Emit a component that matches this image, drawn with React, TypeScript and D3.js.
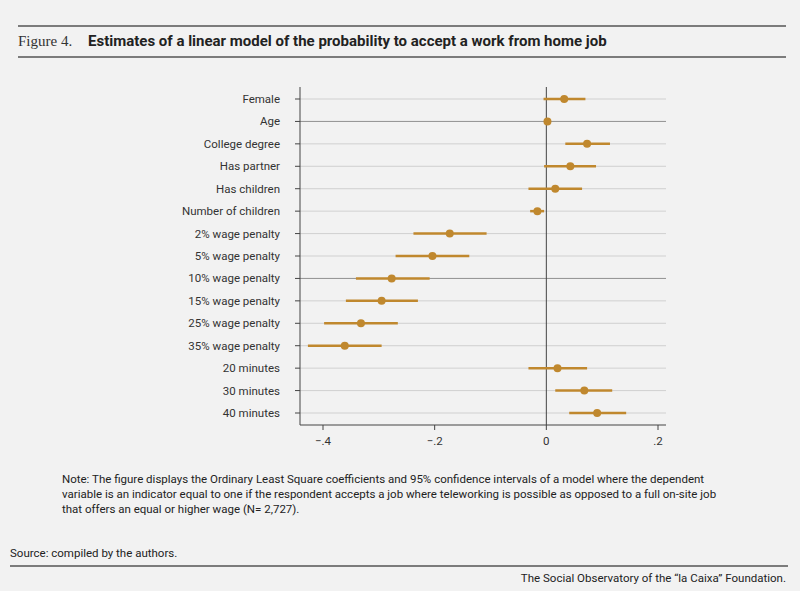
import React from 'react';
import * as d3 from 'd3';

const labels = ['Female', 'Age', 'College degree', 'Has partner', 'Has children', 'Number of children',
  '2% wage penalty', '5% wage penalty', '10% wage penalty', '15% wage penalty', '25% wage penalty',
  '35% wage penalty', '20 minutes', '30 minutes', '40 minutes'];
const estimates = [0.032, 0.002, 0.073, 0.043, 0.016, -0.016, -0.173, -0.204, -0.277, -0.295, -0.332, -0.361, 0.02, 0.068, 0.091];
const lower = [-0.005, -0.002, 0.034, -0.004, -0.032, -0.029, -0.238, -0.27, -0.341, -0.359, -0.398, -0.427, -0.032, 0.016, 0.041];
const upper = [0.07, 0.006, 0.114, 0.089, 0.064, -0.004, -0.107, -0.138, -0.209, -0.23, -0.266, -0.295, 0.073, 0.118, 0.143];
const ticks = [-0.4, -0.2, 0, 0.2];
const darkRows = ['Age', '10% wage penalty'];

const sans = 'Roboto, "Noto Sans", sans-serif';
const gold = '#c0882e';

export default function App() {
  const x = d3.scaleLinear().domain([-0.4, 0.2]).range([323, 658]);
  const y = d3.scalePoint<string>().domain(labels).range([99, 413]);
  const fmt = (v: number) => (v === 0 ? '0' : d3.format('.1f')(v).replace('0.', '.'));
  return (
    <svg width={800} height={591} style={{ position: 'absolute', left: 0, top: 0, background: '#f2f2f2' }}>
      <rect width={800} height={591} fill="#f2f2f2" />
      <line x1={18} x2={786} y1={26} y2={26} stroke="#555" strokeWidth={1.5} />
      <text x={18} y={46} fontFamily='"Liberation Serif", serif' fontSize={15} fill="#333">Figure 4.</text>
      <text x={88} y={46} fontFamily={sans} fontSize={15} fontWeight="bold" fill="#222">Estimates of a linear model of the probability to accept a work from home job</text>
      <line x1={18} x2={786} y1={57} y2={57} stroke="#555" strokeWidth={1.5} />

      {labels.map((l) => (
        <g key={l}>
          <line x1={300} x2={666} y1={y(l)} y2={y(l)} stroke={darkRows.includes(l) ? '#777' : '#c8c8c8'} strokeWidth={0.8} />
          <line x1={295} x2={300} y1={y(l)} y2={y(l)} stroke="#444" />
          <text x={280} y={y(l)! + 4} textAnchor="end" fontFamily={sans} fontSize={11.5} fill="#333">{l}</text>
        </g>
      ))}
      <line x1={300} x2={300} y1={87} y2={425} stroke="#444" />
      <line x1={300} x2={666} y1={425} y2={425} stroke="#444" />
      <line x1={x(0)} x2={x(0)} y1={87} y2={425} stroke="#444" />
      {ticks.map((t) => (
        <g key={t}>
          <line x1={x(t)} x2={x(t)} y1={425} y2={430} stroke="#444" />
          <text x={x(t)} y={445} textAnchor="middle" fontFamily={sans} fontSize={11.5} fill="#333">{fmt(t)}</text>
        </g>
      ))}
      {labels.map((l, i) => (
        <g key={'m' + l}>
          <line x1={x(lower[i])} x2={x(upper[i])} y1={y(l)} y2={y(l)} stroke={gold} strokeWidth={2.5} />
          <circle cx={x(estimates[i])} cy={y(l)} r={4} fill={gold} />
        </g>
      ))}

      <text fontFamily={sans} fontSize={11.5} fill="#222">
        <tspan x={62} y={483}>Note: The figure displays the Ordinary Least Square coefficients and 95% confidence intervals of a model where the dependent</tspan>
        <tspan x={62} y={498}>variable is an indicator equal to one if the respondent accepts a job where teleworking is possible as opposed to a full on-site job</tspan>
        <tspan x={62} y={513}>that offers an equal or higher wage (N= 2,727).</tspan>
      </text>
      <text x={10} y={557} fontFamily={sans} fontSize={11.5} fill="#222">Source: compiled by the authors.</text>
      <line x1={10} x2={788} y1={566} y2={566} stroke="#555" strokeWidth={1.5} />
      <text x={786} y={582} textAnchor="end" fontFamily={sans} fontSize={11.5} fill="#222">The Social Observatory of the “la Caixa” Foundation.</text>
    </svg>
  );
}
